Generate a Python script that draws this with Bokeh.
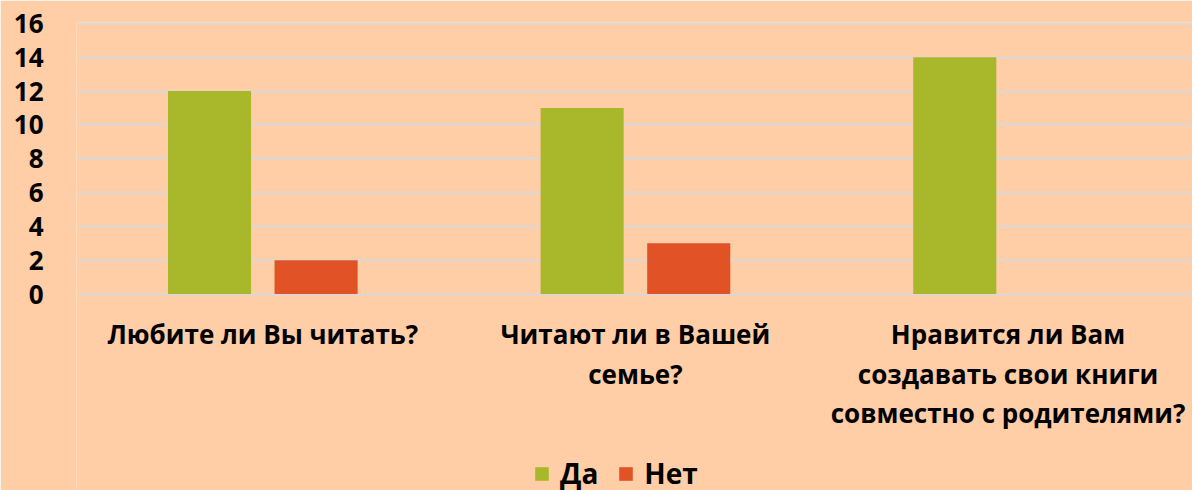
from bokeh.plotting import figure
from bokeh.models import ColumnDataSource, Range1d, FixedTicker, Legend, LegendItem
from bokeh.transform import dodge
from bokeh.embed import file_html
from bokeh.resources import INLINE

categories = ["Любите ли Вы читать?",
              "Читают ли в Вашей\nсемье?",
              "Нравится ли Вам\nсоздавать свои книги\nсовместно с родителями?"]
series_names = ["Да", "Нет"]
yes_values = [12, 11, 14]
no_values = [2, 3, 0]
y_ticks = [0, 2, 4, 6, 8, 10, 12, 14, 16]

BG = "#FFCDA6"
GREEN = "#A8B82A"
RED = "#E15327"
FONT = "Open Sans"

idx = list(range(len(categories)))
source = ColumnDataSource(dict(x=idx, yes=yes_values, no=no_values))

# frame spans from the top grid line down past the bottom of the window;
# the value axis occupies 0..16 in the upper part, labels and legend below it
p = figure(frame_width=1116, frame_height=470, output_backend="svg", toolbar_location=None,
           x_range=Range1d(-0.5, 2.495), y_range=Range1d(-11.73, 16.05),
           min_border_left=76, min_border_right=0, min_border_top=22, min_border_bottom=0)

r_yes = p.vbar(x=dodge("x", -0.143), top="yes", width=0.223, source=source,
               fill_color=GREEN, line_color=None)
r_no = p.vbar(x=dodge("x", 0.143), top="no", width=0.223, source=source,
              fill_color=RED, line_color=None)

p.background_fill_color = BG
p.border_fill_color = BG
p.outline_line_color = None

p.xgrid.visible = False
p.ygrid.grid_line_color = "#D9D9D9"
p.ygrid.grid_line_width = 2

p.yaxis.ticker = FixedTicker(ticks=y_ticks)
p.yaxis.axis_line_color = None
p.yaxis.major_tick_line_color = None
p.yaxis.minor_tick_line_color = None
p.yaxis.major_label_text_font = FONT
p.yaxis.major_label_text_font_style = "bold"
p.yaxis.major_label_text_font_size = "26px"
p.yaxis.major_label_text_color = "#000000"
p.yaxis.major_label_standoff = 27

p.xaxis.fixed_location = 0
p.xaxis.ticker = FixedTicker(ticks=idx)
p.xaxis.major_label_overrides = {i: c for i, c in zip(idx, categories)}
p.xaxis.axis_line_color = None
p.xaxis.major_tick_line_color = None
p.xaxis.minor_tick_line_color = None
p.xaxis.major_label_text_font = FONT
p.xaxis.major_label_text_font_style = "bold"
p.xaxis.major_label_text_font_size = "26px"
p.xaxis.major_label_text_line_height = 1.1
p.xaxis.major_label_text_color = "#000000"
p.xaxis.major_label_standoff = 16

legend = Legend(items=[LegendItem(label=series_names[0], renderers=[r_yes]),
                       LegendItem(label=series_names[1], renderers=[r_no])],
                orientation="horizontal", location=(457, 0),
                background_fill_alpha=0, border_line_color=None,
                label_text_font=FONT, label_text_font_style="bold",
                label_text_font_size="28px", label_text_color="#000000",
                glyph_width=17, glyph_height=17,
                label_standoff=10, spacing=19, padding=0, margin=0)
p.add_layout(legend, "center")

open("out.html", "w").write(file_html(p, INLINE))
